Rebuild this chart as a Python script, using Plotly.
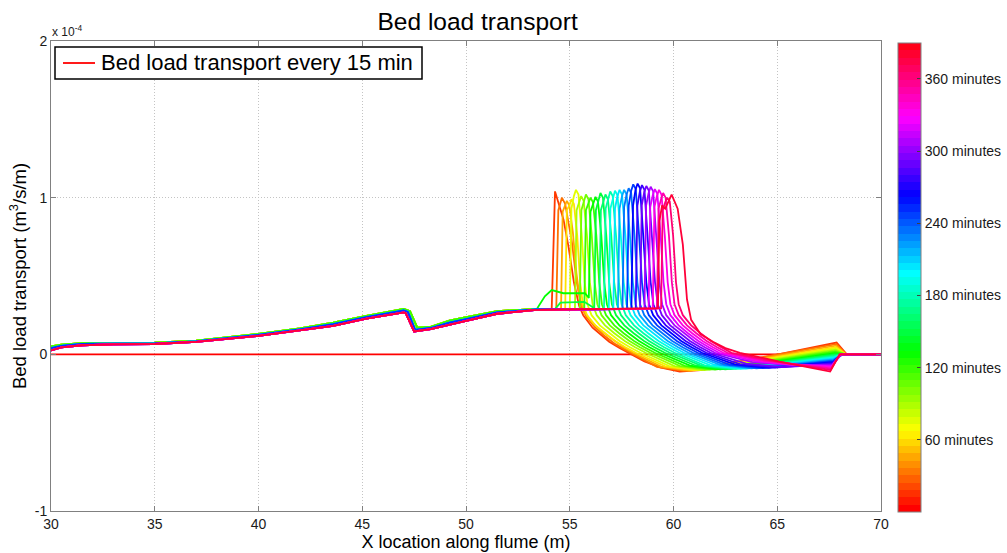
import colorsys
import plotly.graph_objects as go

# Transport values below are listed in units of 1e-5 m^3/s/m
SCALE = 1e-5

MINUTES = [15, 30, 45, 60, 75, 90, 105, 120, 135, 150, 165, 180, 195,
           210, 225, 240, 255, 270, 285, 300, 315, 330, 345, 360, 375, 390]

# Initial state (t = 0): no transport anywhere in the flume
ZERO_X = [30.0, 70.0]
ZERO_Y = [0.0, 0.0]

# Upstream reach (30 - 53.4 m) for early, middle and late output times
UP_X_EARLY = [30.0, 30.5, 31.5, 33.0, 35.0, 37.0, 40.0, 42.0, 43.6, 45.2, 46.2,
              47.0, 47.3, 47.65, 48.3, 49.2, 49.9, 51.5, 53.4]
UP_Y_EARLY = [0.50, 0.62, 0.72, 0.74, 0.74, 0.87, 1.30, 1.66, 2.02, 2.45, 2.70,
              2.90, 2.75, 1.70, 1.75, 2.15, 2.35, 2.75, 2.90]
UP_X_MID = [30.0, 30.5, 31.5, 33.0, 35.0, 37.0, 40.0, 42.0, 43.6, 45.2, 46.2,
            47.0, 47.2, 47.55, 48.3, 49.2, 49.9, 51.5, 53.4]
UP_Y_MID = [0.40, 0.54, 0.66, 0.69, 0.70, 0.83, 1.24, 1.60, 1.92, 2.38, 2.61,
            2.80, 2.70, 1.56, 1.68, 2.02, 2.22, 2.67, 2.87]
UP_X_LATE = [30.0, 30.5, 31.5, 33.0, 35.0, 37.0, 40.0, 42.0, 43.6, 45.2, 46.2,
             47.0, 47.1, 47.5, 48.3, 49.2, 49.9, 51.5, 53.4]
UP_Y_LATE = [0.25, 0.45, 0.58, 0.64, 0.66, 0.80, 1.18, 1.55, 1.82, 2.28, 2.52,
             2.68, 2.62, 1.46, 1.61, 1.90, 2.10, 2.59, 2.84]

# Downstream reach: migrating front, scour zone and flume end
X_015 = [54.13, 54.29, 54.45, 54.70, 54.95, 55.20, 55.45, 55.65, 56.10, 56.46, 56.90,
         57.40, 57.85, 58.60, 59.40, 60.30, 61.30, 67.86, 68.35, 70.0]
Y_015 = [2.88, 10.40, 9.70, 8.60, 6.80, 4.60, 3.10, 2.50, 1.70, 1.30, 0.80,
         0.40, 0.08, -0.45, -0.85, -1.10, -1.00, 0.75, 0.0, 0.0]
X_030 = [54.35, 54.45, 54.62, 54.78, 55.10, 55.33, 55.55, 55.80, 56.20, 56.70, 57.20,
         57.60, 57.95, 59.20, 60.50, 67.85, 68.33, 70.0]
Y_030 = [2.88, 9.20, 10.00, 9.60, 7.20, 4.65, 3.10, 2.40, 1.75, 1.15, 0.65,
         0.35, 0.10, -0.80, -1.06, 0.65, 0.0, 0.0]
X_045 = [54.58, 54.66, 54.76, 54.86, 54.98, 55.15, 55.32, 55.48, 55.70, 56.10, 56.60,
         57.10, 57.60, 58.05, 59.40, 60.75, 67.84, 68.32, 70.0]
Y_045 = [2.88, 9.10, 9.50, 9.80, 9.50, 7.80, 5.20, 3.60, 2.70, 2.00, 1.40,
         0.90, 0.45, 0.10, -0.78, -1.05, 0.55, 0.0, 0.0]
X_060 = [54.78, 54.86, 54.98, 55.08, 55.20, 55.36, 55.50, 55.63, 55.83, 56.23, 56.68,
         57.18, 57.68, 58.18, 59.60, 61.00, 67.83, 68.30, 70.0]
Y_060 = [2.88, 9.20, 9.50, 9.90, 9.60, 7.60, 4.60, 3.20, 2.50, 1.85, 1.35,
         0.85, 0.45, 0.10, -0.77, -1.02, 0.45, 0.0, 0.0]
X_075 = [55.00, 55.08, 55.20, 55.30, 55.42, 55.58, 55.72, 55.85, 56.05, 56.45, 56.90,
         57.40, 57.90, 58.40, 59.80, 61.25, 67.82, 68.29, 70.0]
Y_075 = [2.88, 9.30, 10.10, 10.50, 10.20, 7.60, 4.60, 3.20, 2.50, 1.85, 1.35,
         0.85, 0.45, 0.10, -0.75, -1.00, 0.38, 0.0, 0.0]
X_090 = [55.25, 55.33, 55.45, 55.55, 55.67, 55.83, 55.97, 56.10, 56.30, 56.70, 57.15,
         57.65, 58.15, 58.65, 60.05, 61.50, 67.81, 68.28, 70.0]
Y_090 = [2.88, 9.20, 9.70, 10.10, 9.80, 7.60, 4.60, 3.20, 2.50, 1.85, 1.35,
         0.85, 0.45, 0.10, -0.75, -1.00, 0.30, 0.0, 0.0]
X_105 = [55.48, 55.56, 55.68, 55.78, 55.90, 56.06, 56.20, 56.33, 56.53, 56.93, 57.38,
         57.88, 58.38, 58.88, 60.30, 61.75, 67.80, 68.26, 70.0]
Y_105 = [2.88, 9.20, 9.80, 10.20, 9.90, 7.60, 4.60, 3.20, 2.50, 1.85, 1.35,
         0.85, 0.45, 0.10, -0.74, -0.98, 0.22, 0.0, 0.0]
X_120 = [55.70, 55.78, 55.90, 56.00, 56.12, 56.28, 56.42, 56.55, 56.75, 57.15, 57.60,
         58.10, 58.60, 59.10, 60.55, 62.00, 67.79, 68.25, 70.0]
Y_120 = [2.88, 9.20, 9.60, 10.00, 9.70, 7.60, 4.60, 3.20, 2.50, 1.85, 1.35,
         0.85, 0.45, 0.10, -0.73, -0.97, 0.15, 0.0, 0.0]
X_135 = [53.80, 54.13, 54.69, 55.73, 55.92, 56.00, 56.14, 56.24, 56.36, 56.52, 56.66,
         56.79, 56.99, 57.39, 57.84, 58.34, 58.84, 59.34, 60.80, 62.25, 67.78, 68.24, 70.0]
Y_135 = [3.70, 4.10, 3.90, 3.90, 3.60, 9.10, 9.70, 10.05, 9.75, 7.60, 4.60,
         3.20, 2.50, 1.85, 1.35, 0.85, 0.45, 0.10, -0.72, -0.96, 0.08, 0.0, 0.0]
X_150 = [54.30, 54.55, 55.70, 56.00, 56.18, 56.26, 56.38, 56.48, 56.60, 56.76, 56.90,
         57.03, 57.23, 57.63, 58.08, 58.58, 59.08, 59.58, 61.05, 62.50, 67.77, 68.22, 70.0]
Y_150 = [2.90, 3.30, 3.35, 3.10, 2.95, 9.20, 9.90, 10.30, 10.00, 7.60, 4.60,
         3.20, 2.50, 1.85, 1.35, 0.85, 0.45, 0.10, -0.71, -0.95, 0.00, 0.0, 0.0]
X_165 = [56.42, 56.50, 56.62, 56.72, 56.84, 57.00, 57.14, 57.27, 57.47, 57.87, 58.32,
         58.82, 59.32, 59.82, 61.30, 62.75, 67.76, 68.21, 70.0]
Y_165 = [2.88, 9.20, 9.80, 10.20, 9.90, 7.60, 4.60, 3.20, 2.50, 1.85, 1.35,
         0.85, 0.45, 0.10, -0.70, -0.94, -0.07, 0.0, 0.0]
X_180 = [56.65, 56.73, 56.85, 56.95, 57.07, 57.23, 57.37, 57.50, 57.70, 58.10, 58.55,
         59.05, 59.55, 60.05, 61.50, 63.00, 67.75, 68.20, 70.0]
Y_180 = [2.88, 9.30, 10.00, 10.40, 10.10, 7.60, 4.60, 3.20, 2.50, 1.85, 1.35,
         0.85, 0.45, 0.10, -0.70, -0.93, -0.13, 0.0, 0.0]
X_195 = [56.88, 56.96, 57.08, 57.18, 57.30, 57.46, 57.60, 57.73, 57.93, 58.33, 58.78,
         59.28, 59.78, 60.28, 61.75, 63.25, 67.74, 68.18, 70.0]
Y_195 = [2.88, 9.30, 10.05, 10.45, 10.15, 7.60, 4.60, 3.20, 2.50, 1.85, 1.35,
         0.85, 0.45, 0.10, -0.69, -0.92, -0.20, 0.0, 0.0]
X_210 = [57.10, 57.18, 57.30, 57.40, 57.52, 57.68, 57.82, 57.95, 58.15, 58.55, 59.00,
         59.50, 60.00, 60.50, 62.00, 63.50, 67.73, 68.17, 70.0]
Y_210 = [2.88, 9.30, 10.10, 10.50, 10.20, 7.60, 4.60, 3.20, 2.50, 1.85, 1.35,
         0.85, 0.45, 0.10, -0.68, -0.91, -0.26, 0.0, 0.0]
X_225 = [57.32, 57.40, 57.52, 57.62, 57.74, 57.90, 58.04, 58.17, 58.37, 58.77, 59.22,
         59.72, 60.22, 60.72, 62.25, 63.75, 67.72, 68.16, 70.0]
Y_225 = [2.88, 9.30, 10.10, 10.50, 10.20, 7.60, 4.60, 3.20, 2.50, 1.85, 1.35,
         0.85, 0.45, 0.10, -0.67, -0.90, -0.32, 0.0, 0.0]
X_240 = [57.54, 57.62, 57.74, 57.84, 57.96, 58.12, 58.26, 58.39, 58.59, 58.99, 59.44,
         59.94, 60.44, 60.94, 62.45, 64.00, 67.71, 68.14, 70.0]
Y_240 = [2.89, 9.40, 10.20, 10.60, 10.30, 7.60, 4.60, 3.20, 2.50, 1.85, 1.35,
         0.85, 0.45, 0.10, -0.66, -0.90, -0.38, 0.0, 0.0]
X_255 = [57.76, 57.84, 57.96, 58.06, 58.18, 58.34, 58.48, 58.61, 58.81, 59.21, 59.66,
         60.16, 60.66, 61.16, 62.70, 64.30, 67.70, 68.13, 70.0]
Y_255 = [2.89, 9.50, 10.45, 10.85, 10.55, 7.60, 4.60, 3.20, 2.50, 1.85, 1.35,
         0.85, 0.45, 0.10, -0.65, -0.88, -0.44, 0.0, 0.0]
X_270 = [57.97, 58.05, 58.17, 58.27, 58.39, 58.55, 58.69, 58.82, 59.02, 59.42, 59.87,
         60.37, 60.87, 61.37, 62.95, 64.60, 67.69, 68.12, 70.0]
Y_270 = [2.90, 9.50, 10.50, 10.90, 10.60, 7.60, 4.60, 3.20, 2.50, 1.85, 1.35,
         0.85, 0.45, 0.10, -0.64, -0.86, -0.50, 0.0, 0.0]
X_285 = [58.18, 58.26, 58.38, 58.48, 58.60, 58.76, 58.90, 59.03, 59.23, 59.63, 60.08,
         60.58, 61.08, 61.58, 63.20, 64.90, 67.68, 68.10, 70.0]
Y_285 = [2.90, 9.50, 10.40, 10.80, 10.50, 7.60, 4.60, 3.20, 2.50, 1.85, 1.35,
         0.85, 0.45, 0.10, -0.62, -0.84, -0.56, 0.0, 0.0]
X_300 = [58.39, 58.47, 58.59, 58.69, 58.81, 58.97, 59.11, 59.24, 59.44, 59.84, 60.29,
         60.79, 61.29, 61.79, 63.50, 65.30, 67.66, 68.09, 70.0]
Y_300 = [2.90, 9.50, 10.35, 10.75, 10.45, 7.60, 4.60, 3.20, 2.50, 1.85, 1.35,
         0.85, 0.45, 0.10, -0.60, -0.82, -0.62, 0.0, 0.0]
X_315 = [58.60, 58.68, 58.80, 58.90, 59.02, 59.18, 59.32, 59.45, 59.65, 60.05, 60.50,
         61.00, 61.50, 62.00, 63.80, 65.80, 67.65, 68.08, 70.0]
Y_315 = [2.90, 9.50, 10.30, 10.70, 10.40, 7.60, 4.60, 3.20, 2.50, 1.85, 1.35,
         0.85, 0.45, 0.10, -0.50, -0.70, -0.68, 0.0, 0.0]
X_330 = [58.80, 58.88, 59.00, 59.10, 59.22, 59.38, 59.52, 59.65, 59.85, 60.25, 60.70,
         61.20, 61.70, 62.20, 64.00, 65.90, 67.63, 68.06, 70.0]
Y_330 = [2.90, 9.40, 10.15, 10.55, 10.25, 7.60, 4.60, 3.20, 2.50, 1.85, 1.35,
         0.85, 0.45, 0.10, -0.45, -0.68, -0.75, 0.0, 0.0]
X_345 = [59.00, 59.08, 59.20, 59.30, 59.42, 59.58, 59.72, 59.85, 60.05, 60.45, 60.90,
         61.40, 61.90, 62.40, 64.20, 66.00, 67.61, 68.05, 70.0]
Y_345 = [2.91, 9.40, 10.10, 10.50, 10.20, 7.60, 4.60, 3.20, 2.50, 1.85, 1.35,
         0.85, 0.45, 0.10, -0.42, -0.68, -0.82, 0.0, 0.0]
X_360 = [59.20, 59.28, 59.40, 59.50, 59.62, 59.78, 59.92, 60.05, 60.25, 60.65, 61.10,
         61.60, 62.10, 62.60, 64.40, 66.10, 67.59, 68.03, 70.0]
Y_360 = [2.92, 9.30, 9.90, 10.30, 10.00, 7.60, 4.60, 3.20, 2.50, 1.85, 1.35,
         0.85, 0.45, 0.10, -0.40, -0.68, -0.90, 0.0, 0.0]
X_375 = [59.40, 59.48, 59.60, 59.70, 59.82, 59.98, 60.12, 60.25, 60.45, 60.85, 61.30,
         61.80, 62.30, 62.80, 64.70, 66.20, 67.57, 68.02, 70.0]
Y_375 = [2.93, 9.20, 9.70, 10.00, 9.75, 7.60, 4.60, 3.20, 2.50, 1.85, 1.35,
         0.85, 0.45, 0.10, -0.40, -0.70, -1.00, 0.0, 0.0]
X_390 = [59.25, 59.32, 59.45, 59.60, 59.91, 60.20, 60.45, 60.65, 60.85, 61.30, 61.90,
         62.50, 63.20, 65.10, 67.55, 68.00, 70.0]
Y_390 = [2.95, 8.50, 9.50, 9.30, 10.20, 9.30, 7.00, 3.50, 2.20, 1.30, 0.80,
         0.40, 0.10, -0.46, -1.10, 0.0, 0.0]

DOWN_X = [X_015, X_030, X_045, X_060, X_075, X_090, X_105, X_120, X_135, X_150, X_165,
          X_180, X_195, X_210, X_225, X_240, X_255, X_270, X_285, X_300, X_315, X_330,
          X_345, X_360, X_375, X_390]
DOWN_Y = [Y_015, Y_030, Y_045, Y_060, Y_075, Y_090, Y_105, Y_120, Y_135, Y_150, Y_165,
          Y_180, Y_195, Y_210, Y_225, Y_240, Y_255, Y_270, Y_285, Y_300, Y_315, Y_330,
          Y_345, Y_360, Y_375, Y_390]

X_TICKS = [30, 35, 40, 45, 50, 55, 60, 65, 70]
Y_TICKS = [-1, 0, 1, 2]
CBAR_TICKS = [60, 120, 180, 240, 300, 360]
C_MIN, C_MAX = 0, 390
N_LINES = len(MINUTES) + 1
LEGEND_TEXT = "Bed load transport every 15 min"

FONT = "Liberation Sans, Arial, sans-serif"

# plot-area size in pixels (used to place the legend box)
W, H = 1007, 553
ML, MR, MT, MB = 51, 126, 41, 42
PW, PH = W - ML - MR, H - MT - MB


def px_x(px):
    return (px - ML) / PW


def px_y(py):
    return (H - MB - py) / PH


def hsv_hex(h):
    r, g, b = colorsys.hsv_to_rgb(h % 1.0, 1.0, 1.0)
    return "#%02x%02x%02x" % (round(r * 255), round(g * 255), round(b * 255))


def upstream(minute):
    if minute <= 120:
        return UP_X_EARLY, UP_Y_EARLY
    if minute <= 255:
        return UP_X_MID, UP_Y_MID
    return UP_X_LATE, UP_Y_LATE


# 64-step hsv colormap for the colour bar
N_MAP = 64
colorscale = []
for i in range(N_MAP):
    c = hsv_hex(i / N_MAP)
    colorscale.append([i / N_MAP, c])
    colorscale.append([(i + 1) / N_MAP, c])

fig = go.Figure()

zero_color = hsv_hex(0.0)
fig.add_trace(go.Scatter(
    x=ZERO_X, y=[v * SCALE for v in ZERO_Y], mode="lines",
    line=dict(color=zero_color, width=1.8),
    name=LEGEND_TEXT, showlegend=False,
))

for idx, minute in enumerate(MINUTES):
    ux, uy = upstream(minute)
    xs = list(ux) + list(DOWN_X[idx])
    ys = [v * SCALE for v in list(uy) + list(DOWN_Y[idx])]
    fig.add_trace(go.Scatter(
        x=xs, y=ys, mode="lines",
        line=dict(color=hsv_hex((idx + 1) / N_LINES), width=1.8),
        name=f"{minute} minutes", showlegend=False, hoverinfo="skip",
    ))

# colour bar carrier
fig.add_trace(go.Scatter(
    x=[None], y=[None], mode="markers", showlegend=False, hoverinfo="skip",
    marker=dict(
        color=[C_MIN], cmin=C_MIN, cmax=C_MAX, colorscale=colorscale, showscale=True,
        colorbar=dict(
            x=px_x(896), xanchor="left", xref="paper", xpad=2, ypad=0,
            y=0.497, yanchor="middle", len=0.998, lenmode="fraction",
            thickness=23, thicknessmode="pixels",
            outlinecolor="#808080", outlinewidth=1,
            tickvals=CBAR_TICKS, ticktext=[f"{m} minutes" for m in CBAR_TICKS],
            ticks="inside", ticklen=4, tickcolor="#404040",
            tickfont=dict(family=FONT, size=14, color="#1a1a1a"),
        ),
    ),
))

axis_common = dict(
    showline=True, linecolor="#808080", linewidth=1, mirror="ticks",
    ticks="inside", ticklen=5, tickcolor="#808080",
    showgrid=True, gridcolor="#c4c4c4", griddash="1px,2px", gridwidth=1,
    zeroline=False, automargin=False,
    tickfont=dict(family=FONT, size=14, color="#1a1a1a"),
)

fig.update_layout(
    width=W, height=H,
    margin=dict(l=ML, r=MR, t=MT, b=MB, autoexpand=False),
    paper_bgcolor="white", plot_bgcolor="white",
    font=dict(family=FONT, color="#1a1a1a"),
    title=dict(text="Bed load transport", x=0.514, xref="paper", xanchor="center",
               y=0.962, yref="container", yanchor="middle",
               font=dict(size=24.5, color="#000000")),
    xaxis=dict(range=[30, 70], tickvals=X_TICKS, ticktext=[str(t) for t in X_TICKS],
               title=dict(text="X location along flume (m)", standoff=3,
                          font=dict(size=18, color="#000000")),
               **axis_common),
    yaxis=dict(range=[-1e-4, 2e-4], tickvals=[t * 1e-4 for t in Y_TICKS],
               ticktext=[str(t) for t in Y_TICKS],
               title=dict(text="Bed load transport (m<sup>3</sup>/s/m)", standoff=3,
                          font=dict(size=18.5, color="#000000")),
               **axis_common),
    showlegend=False,
)

# legend box with a sample of the t = 0 line
fig.add_shape(type="rect", xref="paper", yref="paper",
              x0=px_x(55), x1=px_x(422), y0=px_y(79), y1=px_y(47),
              line=dict(color="#000000", width=1.5), fillcolor="white", layer="above")
fig.add_shape(type="line", xref="paper", yref="paper",
              x0=px_x(63), x1=px_x(95), y0=px_y(63), y1=px_y(63),
              line=dict(color=zero_color, width=1.8), layer="above")
fig.add_annotation(x=px_x(99), y=px_y(63), xref="paper", yref="paper",
                   xanchor="left", yanchor="middle", showarrow=False,
                   text=LEGEND_TEXT, font=dict(size=22, color="#000000"))

fig.add_annotation(
    x=0.0, y=1.0, xref="paper", yref="paper", xanchor="left", yanchor="bottom",
    xshift=-1, yshift=0, showarrow=False,
    text="x 10<sup>-4</sup>", font=dict(size=12, color="#1a1a1a"),
)

fig.write_html("out.html")
